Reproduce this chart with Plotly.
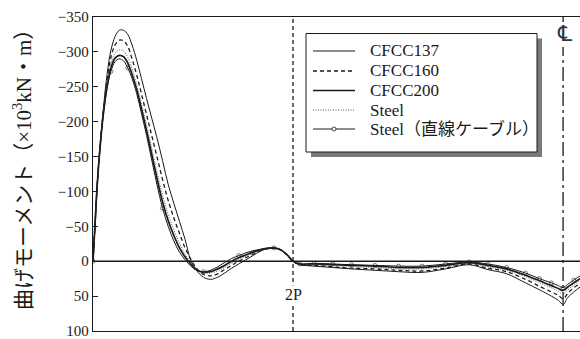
import plotly.graph_objects as go

# Distance along the girder (CL at 100, 2P support at 42.55)
X = [0, 0.4, 0.9, 1.5, 2.2, 3.0, 3.8, 4.7, 5.6, 6.5, 7.4, 8.3, 9.3, 10.3, 11.4,
     12.5, 13.6, 14.8, 16.0, 17.2, 18.4, 19.6, 20.8, 22.0, 23.5, 25.0, 26.5,
     28.0, 29.5, 31.0, 32.5, 34.0, 35.5, 37.0, 38.5, 40.0, 41.3, 42.55, 44.0,
     47.0, 51.0, 55.0, 60.0, 65.0, 70.0, 75.0, 80.0, 84.0, 88.0, 92.0, 95.0,
     97.5, 99.0, 100.0, 101.0, 102.3, 103.6]

# Bending moment (x10^3 kN·m)
CFCC137 = [0, -45, -108, -165, -218, -268, -302, -322, -331, -331, -325, -310,
           -288, -262, -233, -205, -177, -144, -110, -83, -57, -31, -1, 13, 23,
           26, 23, 17, 10, 4, -2, -8, -14, -18, -19, -16, -9, 0, 5,
           7, 9, 11, 13, 15, 16, 11, 5, 12, 18, 31, 41, 50, 56, 62, 52, 44, 37]
CFCC160 = [0, -47, -109, -164, -215, -260, -292, -310, -317, -316, -308, -290,
           -267, -240, -210, -180, -150, -117, -87, -62, -40, -19, -3, 10, 19,
           21, 18, 12, 6, 0, -5, -10, -15, -18, -19, -16, -9, 0, 5,
           6, 8, 10, 11, 13, 14, 10, 4, 10, 15, 26, 36, 44, 49, 54, 46, 38, 32]
CFCC200 = [0, -49, -110, -163, -211, -251, -277, -291, -295, -293, -284, -268,
           -246, -219, -187, -153, -119, -85, -58, -37, -19, -6, 4, 12, 16,
           15, 11, 6, 0, -5, -9, -13, -16, -18, -19, -16, -9, 0, 4,
           4, 5, 6, 7, 9, 9, 6, 2, 6, 11, 20, 28, 35, 39, 42, 37, 31, 25]
STEEL = [0, -48, -109, -164, -213, -255, -283, -298, -303, -301, -292, -276,
         -253, -226, -195, -162, -128, -95, -67, -45, -26, -10, 2, 11, 16,
         17, 14, 9, 3, -3, -7, -11, -15, -18, -19, -16, -9, 0, 4,
         5, 6, 8, 9, 11, 11, 8, 3, 8, 13, 22, 31, 38, 43, 47, 41, 34, 28]
STEEL_STRAIGHT = [0, -50, -110, -163, -210, -248, -272, -286, -290, -287, -277,
                  -262, -240, -212, -180, -145, -110, -76, -50, -29, -13, -2, 7,
                  13, 15, 13, 8, 2, -4, -8, -12, -15, -17, -19, -19, -16, -9, 0, 4,
                  3, 4, 5, 6, 7, 7, 4, 1, 4, 9, 17, 25, 31, 35, 38, 33, 27, 21]
MARKER_IDX = [0, 6, 10, 17, 24, 29, 34, 38, 39, 40, 41, 42, 43, 44, 45, 46, 47,
              48, 49, 50, 51, 53, 55]

Y_TICKS = [-350, -300, -250, -200, -150, -100, -50, 0, 50, 100]
X_2P = 42.55
X_CL = 100.0

INK = "#1a1a1a"
SERIF = "'Liberation Serif', 'Noto Sans CJK JP', serif"

# plot-area geometry in pixels (for placing the key box)
W, H = 580, 339
ML, MT, MR, MB = 93, 17, 0, 8
PW, PH = W - ML - MR, H - MT - MB


def px(xp):
    return (xp - ML) / PW


def py(yp):
    return 1 - (yp - MT) / PH


fig = go.Figure()

series = [
    ("CFCC137", CFCC137, dict(color=INK, width=1.0, dash="solid")),
    ("CFCC160", CFCC160, dict(color=INK, width=1.3, dash="4px,3px")),
    ("CFCC200", CFCC200, dict(color=INK, width=1.7, dash="solid")),
    ("Steel", STEEL, dict(color="#555555", width=1.0, dash="1px,1.5px")),
]
for name, ys, line in series:
    fig.add_trace(go.Scatter(x=X, y=ys, mode="lines", name=name,
                             line=dict(shape="spline", **line)))

sizes = [4 if i in MARKER_IDX else 0 for i in range(len(X))]
fig.add_trace(go.Scatter(
    x=X, y=STEEL_STRAIGHT, mode="lines+markers", name="Steel（直線ケーブル）",
    line=dict(color=INK, width=1.0, shape="spline"),
    marker=dict(symbol="circle-open", size=sizes, color=INK, line=dict(width=0.8)),
))

# zero line
fig.add_shape(type="line", xref="paper", x0=0, x1=1, yref="y", y0=0, y1=0,
              line=dict(color=INK, width=1.4))
# 2P support line
fig.add_shape(type="line", xref="x", x0=X_2P, x1=X_2P, yref="paper", y0=0, y1=1,
              line=dict(color=INK, width=1.3, dash="4px,3px"))
# centre line
fig.add_shape(type="line", xref="x", x0=X_CL, x1=X_CL, yref="paper", y0=0, y1=py(47),
              line=dict(color=INK, width=1.3, dash="14px,4px,3px,4px"))
fig.add_shape(type="line", xref="x", x0=X_CL, x1=X_CL, yref="paper", y0=py(22), y1=1,
              line=dict(color=INK, width=1.3))

fig.add_annotation(x=X_2P, y=48, xref="x", yref="y", text="2P", showarrow=False,
                   font=dict(family=SERIF, size=16, color=INK), bgcolor="white",
                   borderpad=0)
fig.add_annotation(x=X_CL + 0.4, y=py(33), xref="x", yref="paper", text="℄",
                   showarrow=False, yanchor="middle",
                   font=dict(family="DejaVu Sans", size=22, color="#333333"))

# y-axis title
fig.add_annotation(x=px(22), y=py(165), xref="paper", yref="paper",
                   text="曲げモーメント（×10<sup>3</sup>kN・m）", textangle=-90,
                   showarrow=False, xanchor="center", yanchor="middle",
                   font=dict(family=SERIF, size=21, color=INK))

# key: frame with drop shadow
fig.add_shape(type="rect", xref="paper", yref="paper",
              x0=px(311), x1=px(542), y0=py(157), y1=py(38.5),
              fillcolor="#7a7a7a", line=dict(width=0), layer="above")
fig.add_shape(type="rect", xref="paper", yref="paper",
              x0=px(306), x1=px(537), y0=py(152), y1=py(33.5),
              fillcolor="white", line=dict(color=INK, width=1), layer="above")

key_rows = [51, 71, 90.5, 110, 129]
key_lines = series + [("Steel（直線ケーブル）", None,
                       dict(color=INK, width=1.0, dash="solid"))]
for (name, _, line), yrow in zip(key_lines, key_rows):
    fig.add_shape(type="line", xref="paper", yref="paper",
                  x0=px(313), x1=px(355), y0=py(yrow), y1=py(yrow),
                  line=line, layer="above")
    fig.add_annotation(x=px(368), y=py(yrow), xref="paper", yref="paper",
                       text=name, showarrow=False, xanchor="left", yanchor="middle",
                       font=dict(family=SERIF, size=17, color=INK))
fig.add_shape(type="circle", xref="paper", yref="paper",
              x0=px(332), x1=px(336), y0=py(131), y1=py(127),
              fillcolor="white", line=dict(color=INK, width=0.8), layer="above")

fig.update_layout(
    width=W, height=H,
    margin=dict(l=ML, r=MR, t=MT, b=MB),
    paper_bgcolor="white", plot_bgcolor="white",
    font=dict(family=SERIF, size=15, color=INK),
    showlegend=False,
    xaxis=dict(range=[0, 103.6], showticklabels=False, ticks="", showgrid=False,
               zeroline=False, showline=True, mirror=True, linecolor=INK,
               linewidth=1.4),
    yaxis=dict(range=[100, -350], tickvals=Y_TICKS, ticks="inside", ticklen=5,
               tickcolor=INK, showgrid=False, zeroline=False, showline=True,
               linecolor=INK, linewidth=1.4, ticklabeloverflow="allow",
               tickfont=dict(family=SERIF, size=15, color=INK)),
)

fig.write_html("out.html")
